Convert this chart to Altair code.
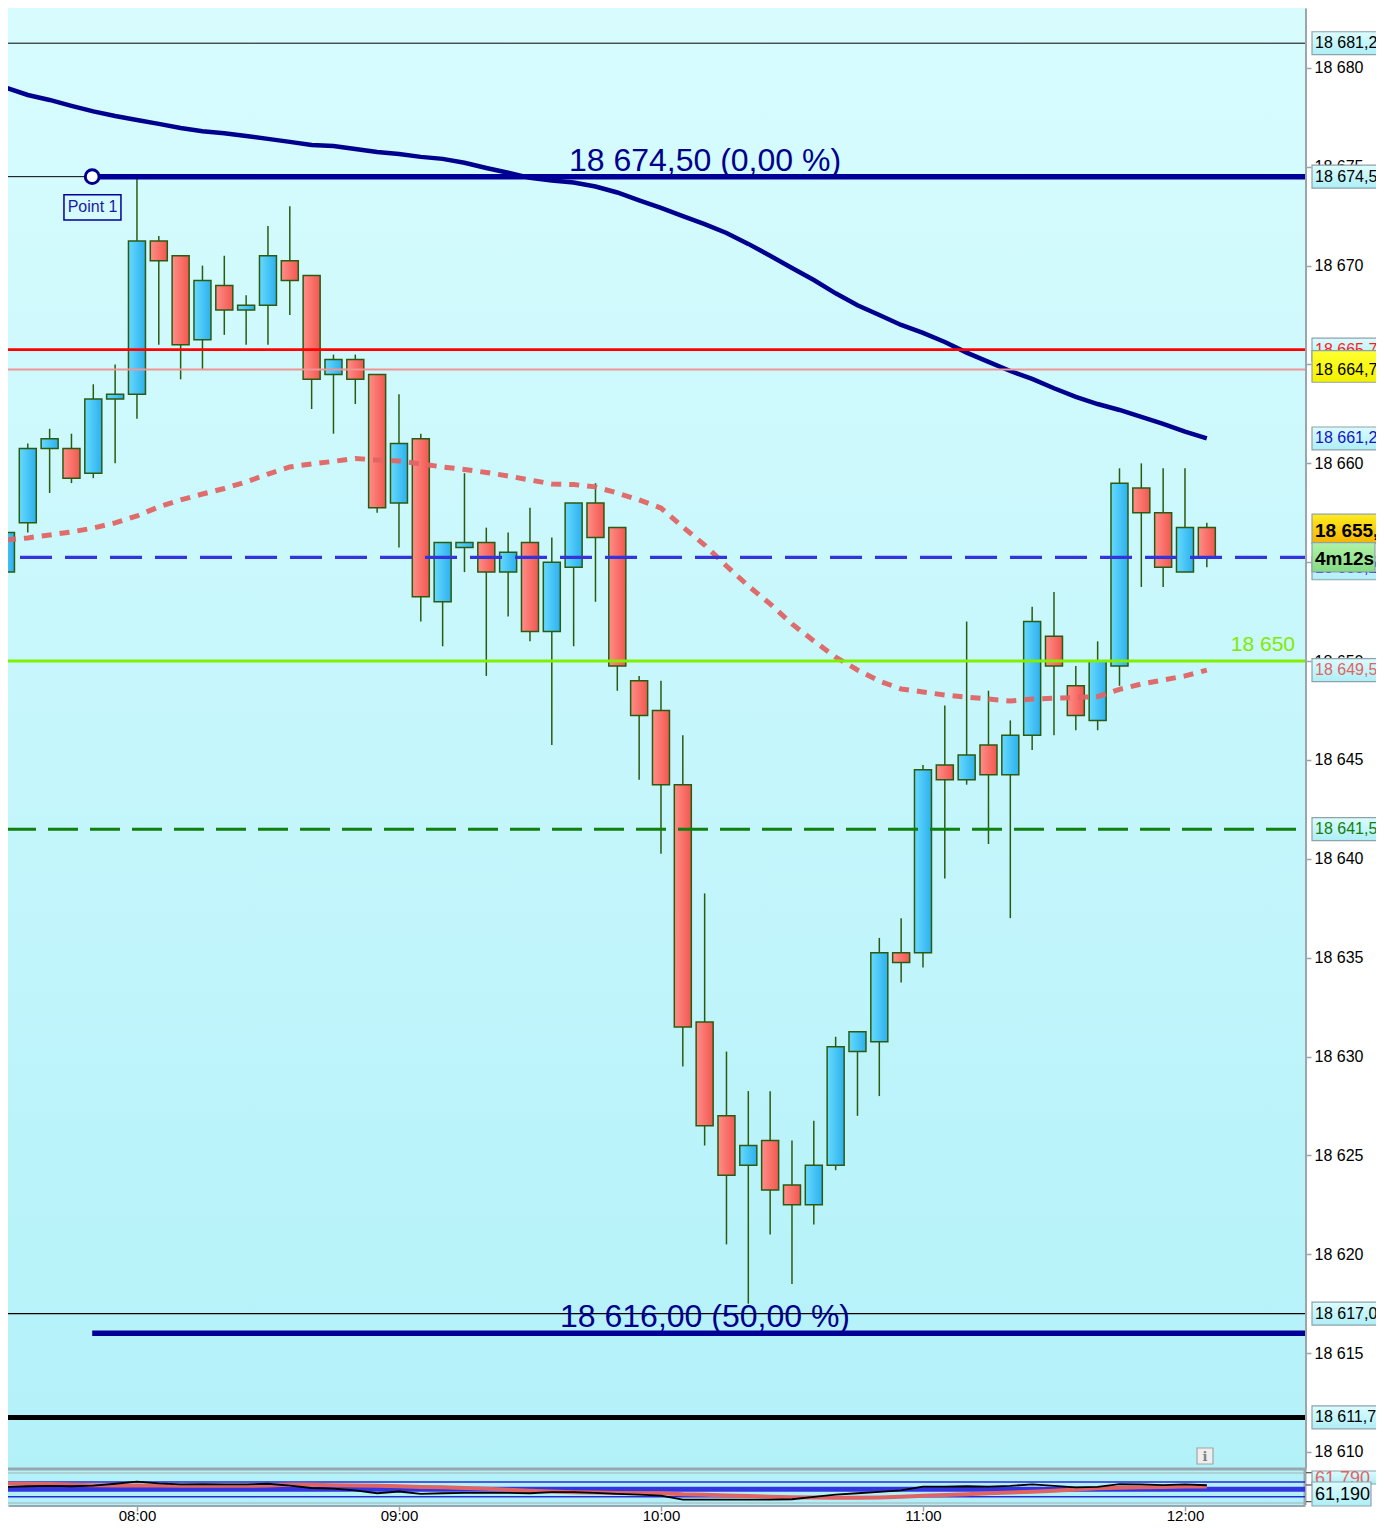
import altair as alt
import pandas as pd

FONT = "Liberation Sans"

# ---------------- data ----------------
candle_times = pd.date_range("2024-01-01 07:30", periods=56, freq="5min")
opens = [18654.5, 18657.0, 18660.75, 18660.75, 18659.5, 18663.25, 18663.5, 18671.25, 18670.5, 18666.25,
         18669.0, 18667.75, 18668.0, 18670.25, 18669.5, 18664.5, 18665.25, 18664.5, 18658.0, 18661.25,
         18653.0, 18655.75, 18656.0, 18654.5, 18656.0, 18651.5, 18654.75, 18658.0, 18656.75, 18649.0,
         18647.5, 18643.75, 18631.75, 18627.0, 18624.5, 18625.75, 18623.5, 18622.5, 18624.5, 18630.25,
         18630.75, 18635.25, 18635.25, 18644.75, 18644.0, 18645.75, 18644.25, 18646.25, 18651.25, 18648.75,
         18647.0, 18649.75, 18658.75, 18657.5, 18654.5, 18656.75]
highs = [18657.5, 18661.0, 18661.75, 18661.5, 18664.0, 18665.0, 18674.5, 18671.5, 18670.5, 18670.0,
         18670.5, 18668.5, 18672.0, 18673.0, 18669.5, 18665.5, 18665.5, 18664.5, 18663.5, 18661.5,
         18656.0, 18659.5, 18656.75, 18656.5, 18657.75, 18656.25, 18658.0, 18659.0, 18656.75, 18649.25,
         18649.0, 18646.25, 18638.25, 18630.25, 18628.25, 18628.25, 18625.75, 18626.75, 18631.0, 18631.25,
         18636.0, 18637.0, 18644.75, 18647.75, 18652.0, 18648.5, 18647.0, 18652.75, 18653.5, 18649.75,
         18651.0, 18659.75, 18660.0, 18659.75, 18659.75, 18657.0]
lows = [18654.25, 18656.5, 18658.5, 18659.0, 18659.25, 18660.0, 18662.25, 18666.0, 18664.25, 18664.75,
        18666.5, 18666.0, 18666.0, 18667.5, 18662.75, 18661.5, 18663.0, 18657.5, 18655.75, 18652.0,
        18650.75, 18654.5, 18649.25, 18652.25, 18651.0, 18645.75, 18650.75, 18653.0, 18648.5, 18644.0,
        18640.25, 18629.5, 18625.5, 18620.5, 18617.5, 18621.0, 18618.5, 18621.5, 18624.25, 18627.0,
        18628.0, 18633.75, 18634.5, 18639.0, 18643.75, 18640.75, 18637.0, 18645.5, 18646.25, 18646.5,
        18646.5, 18648.75, 18653.75, 18653.75, 18654.5, 18654.75]
closes = [18656.5, 18660.75, 18661.25, 18659.25, 18663.25, 18663.5, 18671.25, 18670.25, 18666.0, 18669.25,
          18667.75, 18668.0, 18670.5, 18669.25, 18664.25, 18665.25, 18664.25, 18657.75, 18661.0, 18653.25,
          18656.0, 18656.0, 18654.5, 18655.5, 18651.5, 18655.0, 18658.0, 18656.25, 18649.75, 18647.25,
          18643.75, 18631.5, 18626.5, 18624.0, 18625.5, 18623.25, 18622.5, 18624.5, 18630.5, 18631.25,
          18635.25, 18634.75, 18644.5, 18644.0, 18645.25, 18644.25, 18646.25, 18652.0, 18649.75, 18647.25,
          18650.0, 18659.0, 18657.5, 18654.75, 18656.75, 18655.25]
ma_slow = [18679.0, 18678.63, 18678.38, 18678.08, 18677.8, 18677.57, 18677.37, 18677.17, 18676.96, 18676.8,
           18676.7, 18676.56, 18676.41, 18676.26, 18676.1, 18676.05, 18675.9, 18675.75, 18675.65, 18675.5,
           18675.4, 18675.2, 18674.94, 18674.7, 18674.44, 18674.3, 18674.2, 18674.0, 18673.7, 18673.3,
           18672.92, 18672.5, 18672.1, 18671.65, 18671.1, 18670.5, 18669.88, 18669.27, 18668.6, 18668.0,
           18667.5, 18667.0, 18666.6, 18666.14, 18665.6, 18665.13, 18664.67, 18664.27, 18663.8, 18663.36,
           18663.0, 18662.7, 18662.35, 18662.0, 18661.6, 18661.26]
ma_fast = [18656.13, 18656.23, 18656.38, 18656.53, 18656.73, 18656.99, 18657.34, 18657.8, 18658.15, 18658.45,
           18658.73, 18659.06, 18659.46, 18659.82, 18659.97, 18660.1, 18660.25, 18660.17, 18660.12, 18659.97,
           18659.82, 18659.69, 18659.54, 18659.36, 18659.16, 18658.96, 18658.93, 18658.81, 18658.5, 18658.15,
           18657.74, 18656.78, 18655.87, 18654.81, 18653.8, 18652.89, 18651.88, 18651.02, 18650.2, 18649.55,
           18648.99, 18648.59, 18648.44, 18648.28, 18648.18, 18648.08, 18647.98, 18648.08, 18648.12, 18648.15,
           18648.2, 18648.57, 18648.84, 18649.04, 18649.25, 18649.54]
osc_line = [56.6, 58.5, 59.5, 58.5, 60.4, 65.2, 71.0, 66.2, 63.3, 64.3,
            63.3, 63.3, 65.2, 60.4, 53.7, 51.8, 47.0, 39.4, 44.2, 37.5,
            39.4, 40.3, 40.3, 40.3, 39.4, 42.2, 42.2, 40.3, 37.5, 35.5,
            32.7, 22.2, 22.2, 22.2, 22.2, 22.2, 23.1, 29.8, 35.5, 39.4,
            43.2, 47.0, 57.6, 57.6, 58.5, 57.6, 59.5, 63.3, 59.5, 55.6,
            56.6, 64.3, 63.3, 61.4, 63.3, 61.19]
osc_signal = [66.2, 65.2, 64.3, 62.3, 61.4, 60.4, 60.4, 60.4, 59.5, 59.5,
              59.5, 59.5, 60.4, 62.3, 62.3, 61.4, 60.4, 59.5, 58.5, 56.6,
              55.6, 53.7, 51.8, 48.9, 46.1, 44.2, 42.2, 41.3, 40.3, 39.4,
              39.4, 36.5, 35.5, 33.6, 31.7, 29.8, 28.8, 27.9, 26.9, 26.9,
              27.9, 29.8, 32.7, 34.6, 36.5, 39.4, 41.3, 43.2, 46.1, 49.9,
              52.8, 54.7, 55.6, 56.6, 57.6, 57.6]

price_ticks = list(range(18610, 18685, 5))
hour_ticks = [8, 9, 10, 11, 12]
osc_ticks = [95.4, 61.9, 16.5]

level_top = 18681.25
level_point1 = 18674.50
level_red = 18665.75
level_pink = 18664.75
level_ma_last = 18661.26
level_current = 18655.25
level_round = 18650.00
level_ma2_last = 18649.54
level_green = 18641.50
level_black = 18617.00
level_fib50 = 18616.00
level_black_thick = 18611.75
osc_upper, osc_mid, osc_lower = 70, 50, 30
osc_value_a = 61.79
osc_value_b = 61.19
countdown = "4m12s"
point1_time = "2024-01-01T07:49:45"
label_time = "2024-01-01T10:10:05"
end_time = "2024-01-01T12:27:29"


def fmt(v):
    return f"{v:,.2f}".replace(",", " ").replace(".", ",")


df = pd.DataFrame({
    "t": candle_times.strftime("%Y-%m-%dT%H:%M:%S"),
    "open": opens, "high": highs, "low": lows, "close": closes,
    "ma_slow": ma_slow, "ma_fast": ma_fast,
    "osc": osc_line, "sig": osc_signal,
})

# ---------------- layout / styles ----------------
W = 1297          # plot width
HM = 1460         # price panel height
HT = 1497         # price panel + oscillator panel
NAVY = "#00008e"
OUTLINE = "#2b5b10"
GRID = "#c4e0e6"
BORDER = "#9aa6ae"


def dt(h, m=0, s=0):
    return alt.DateTime(year=2024, month=1, date=1, hours=h, minutes=m, seconds=s)


def vgrad(c0, c1):
    return alt.LinearGradient(gradient="linear", x1=0, x2=0, y1=0, y2=1,
                              stops=[alt.GradientStop(color=c0, offset=0),
                                     alt.GradientStop(color=c1, offset=1)])


def hgrad(c0, c1):
    return alt.LinearGradient(gradient="linear", x1=0, x2=1, y1=0, y2=0,
                              stops=[alt.GradientStop(color=c0, offset=0),
                                     alt.GradientStop(color=c1, offset=1)])


xscale = alt.Scale(domain=[dt(7, 30, 28), dt(12, 27, 29)], padding=0, nice=False)
yscale = alt.Scale(domain=[18609.19, 18683.03], range=[HM, 0], nice=False, zero=False, padding=0)
iscale = alt.Scale(domain=[7.4, 102.7], range=[HT, HM + 2], nice=False, zero=False, padding=0)

x_axis = alt.Axis(values=[dt(h) for h in hour_ticks], format="%H:%M", labelFont=FONT,
                  labelFontSize=15, labelColor="black", labelPadding=-3, labelFlush=False,
                  tickColor=BORDER, tickSize=6, tickWidth=1.5,
                  domainColor=BORDER, domainWidth=3,
                  grid=True, gridColor=GRID, gridDash=[7, 5], gridWidth=1.5, title=None)
y_axis = alt.Axis(orient="right", values=price_ticks,
                  labelExpr="replace(format(datum.value, ','), ',', ' ')",
                  labelFont=FONT, labelFontSize=16, labelColor="black", labelPadding=3,
                  tickColor=BORDER, tickSize=6, tickWidth=1.5,
                  domainColor=BORDER, domainWidth=3,
                  grid=True, gridColor=GRID, gridDash=[7, 5], gridWidth=1.5, title=None)


def X(field="t", axis=alt.Undefined):
    return alt.X(f"{field}:T", scale=xscale, axis=axis, title=None)


def Y(field, axis=None, scale=yscale):
    return alt.Y(f"{field}:Q", scale=scale, axis=axis, title=None)


one = pd.DataFrame({"k": [0]})
base = alt.Chart(df)

bg = alt.Chart(one).mark_rect(fill=vgrad("#d8fcfe", "#b3f1f9")).encode(
    x=alt.value(0), x2=alt.value(W), y=alt.value(0), y2=alt.value(HM))
ibg = alt.Chart(one).mark_rect(fill=vgrad("#b4f2fa", "#b0f0f8")).encode(
    x=alt.value(0), x2=alt.value(W), y=alt.value(HM), y2=alt.value(HT))

wicks = base.mark_rule(color=OUTLINE, strokeWidth=1.5, clip=True).encode(
    x=X(axis=x_axis), y=Y("low", axis=y_axis), y2="high:Q")
down = base.transform_filter("datum.close < datum.open").mark_bar(
    size=17, fill=hgrad("#ff8e88", "#f2574f"), stroke=OUTLINE, strokeWidth=1.5, clip=True
).encode(x=X(), y=Y("open"), y2="close:Q")
up = base.transform_filter("datum.close >= datum.open").mark_bar(
    size=17, fill=hgrad("#66dafd", "#2cb0ee"), stroke=OUTLINE, strokeWidth=1.5, clip=True
).encode(x=X(), y=Y("open"), y2="close:Q")

fast_line = base.mark_line(color="#e06464", strokeWidth=5, strokeDash=[10, 8], clip=True,
                           opacity=0.95).encode(x=X(), y=Y("ma_fast"))
slow_line = base.mark_line(color=NAVY, strokeWidth=4.5, clip=True).encode(x=X(), y=Y("ma_slow"))


def hline(price, **mark):
    return alt.Chart(pd.DataFrame({"p": [price]})).mark_rule(**mark).encode(y=Y("p"))


def partial_line(price, **mark):
    d = pd.DataFrame({"p": [price], "t0": [point1_time], "t1": [end_time]})
    return alt.Chart(d).mark_rule(**mark).encode(x=X("t0"), x2="t1:T", y=Y("p"))


levels = [
    hline(level_top, color="black", strokeWidth=1),
    hline(level_point1, color="black", strokeWidth=1),
    partial_line(level_point1, color="#000099", strokeWidth=5.5),
    hline(level_red, color="#ff0000", strokeWidth=2.8),
    hline(level_pink, color="#f09494", strokeWidth=2),
    hline(level_current, color="#3434dc", strokeWidth=3.3, strokeDash=[32, 13], strokeDashOffset=7),
    hline(level_round, color="#80f000", strokeWidth=3),
    hline(level_green, color="#0f800f", strokeWidth=3, strokeDash=[30, 12], strokeDashOffset=33),
    hline(level_black, color="black", strokeWidth=1.2),
    partial_line(level_fib50, color="#000099", strokeWidth=5.5),
    hline(level_black_thick, color="black", strokeWidth=5),
]

fib_df = pd.DataFrame({"t": [label_time, label_time], "p": [level_point1, level_fib50],
                       "label": [f"{fmt(level_point1)} (0,00 %)", f"{fmt(level_fib50)} (50,00 %)"]})
fib_text = alt.Chart(fib_df).mark_text(font=FONT, fontSize=32, color="#00008b", align="center",
                                       baseline="alphabetic", dy=-6).encode(
    x=X(), y=Y("p"), text="label:N")

round_text = alt.Chart(pd.DataFrame({"p": [level_round], "label": [fmt(level_round)[:-3]]})).mark_text(
    font=FONT, fontSize=21, color="#80ea00", align="right", baseline="alphabetic", dy=-10
).encode(x=alt.value(W - 10), y=Y("p"), text="label:N")

p1_df = pd.DataFrame({"t": [point1_time], "p": [level_point1]})
p1_point = alt.Chart(p1_df).mark_point(shape="circle", size=190, fill="white", fillOpacity=1, opacity=1,
                                       stroke=NAVY, strokeWidth=3).encode(x=X(), y=Y("p"))
p1_box_df = pd.DataFrame({"t0": ["2024-01-01T07:43:17"], "t1": ["2024-01-01T07:56:20"],
                          "p0": [18672.31], "p1": [18673.58], "tc": ["2024-01-01T07:49:50"],
                          "pc": [18672.95], "label": ["Point 1"]})
p1_box = alt.Chart(p1_box_df).mark_rect(fill="#d6fbfd", stroke="#000099", strokeWidth=1.5).encode(
    x=X("t0"), x2="t1:T", y=Y("p0"), y2="p1:Q")
p1_text = alt.Chart(p1_box_df).mark_text(font=FONT, fontSize=16, color="#1a1aa8", align="center",
                                         baseline="middle").encode(x=X("tc"), y=Y("pc"), text="label:N")

BX0, BX1 = W + 7, W + 72
CYAN_BOX = vgrad("#dcfcff", "#aeeef6")


def price_box(price, text, tcolor, fill, half=0.58, shift=0, tshift=None, bold=False, size=16, x1=BX1):
    if tshift is None:
        tshift = shift
    d = pd.DataFrame({"p": [price], "label": [text]})
    b = alt.Chart(d).transform_calculate(lo=f"datum.p - {half}", hi=f"datum.p + {half}")
    rect = b.mark_rect(fill=fill, stroke="#8ea2aa", strokeWidth=1.2, yOffset=shift, y2Offset=shift).encode(
        x=alt.value(BX0), x2=alt.value(x1), y=Y("lo"), y2="hi:Q")
    txt = b.mark_text(align="left", baseline="middle", font=FONT, fontSize=size,
                      fontWeight="bold" if bold else "normal", color=tcolor,
                      yOffset=tshift).encode(
        x=alt.value(BX0 + 3), y=Y("p"), text="label:N")
    return [rect, txt]


boxes = []
boxes += price_box(level_top, fmt(level_top), "black", CYAN_BOX)
boxes += price_box(level_point1, fmt(level_point1), "black", CYAN_BOX)
boxes += price_box(level_ma_last, fmt(level_ma_last), "#1414c8", CYAN_BOX)
boxes += price_box(level_red, fmt(level_red), "#ff1e1e", CYAN_BOX)
boxes += price_box(level_pink, fmt(level_pink), "black", vgrad("#ffff30", "#f4f000"), half=0.8, shift=-3, tshift=1)
boxes += price_box(level_current, fmt(level_current), "#2424d8", CYAN_BOX, shift=11)
boxes += price_box(level_current, fmt(level_current), "black", vgrad("#ffec20", "#f4b400"),
                   half=0.74, shift=-28.5, tshift=-26.5, bold=True, size=19)
boxes += price_box(level_current, countdown, "black", vgrad("#b0f2a8", "#84dc84"),
                   half=0.74, shift=0, tshift=2, bold=True, size=19, x1=W + 70)
boxes += price_box(level_ma2_last, fmt(level_ma2_last), "#e06464", CYAN_BOX)
boxes += price_box(level_green, fmt(level_green), "#108010", CYAN_BOX)
boxes += price_box(level_black, fmt(level_black), "black", CYAN_BOX)
boxes += price_box(level_black_thick, fmt(level_black_thick), "black", CYAN_BOX)

icon_box = alt.Chart(one).mark_rect(fill="#eeeeee", stroke="#a4a4a4", strokeWidth=1.2).encode(
    x=alt.value(1189), x2=alt.value(1205), y=alt.value(1440), y2=alt.value(1456))
icon_txt = alt.Chart(one).mark_text(text="i", font="DejaVu Serif", fontSize=13, fontWeight="bold",
                                    color="#808080", align="center", baseline="middle").encode(
    x=alt.value(1197), y=alt.value(1448.5))

# ---------------- oscillator panel (same plot, own y scale) ----------------
panel_border = alt.Chart(one).mark_rule(color=BORDER, strokeWidth=3).encode(
    y=alt.value(HM + 1), x=alt.value(0), x2=alt.value(W + 1.5))
edge_top = alt.Chart(one).mark_rule(color="#a8c4cc", strokeWidth=1.5).encode(
    y=alt.value(HM + 5), x=alt.value(0), x2=alt.value(W))
edge_bot = alt.Chart(one).mark_rule(color="#a8c4cc", strokeWidth=1.5).encode(
    y=alt.value(HT - 2), x=alt.value(0), x2=alt.value(W))
right_border = alt.Chart(one).mark_rule(color=BORDER, strokeWidth=3).encode(
    x=alt.value(W), y=alt.value(HM), y2=alt.value(HT))


def ihline(v, **mark):
    return alt.Chart(pd.DataFrame({"v": [v]})).mark_rule(**mark).encode(
        y=Y("v", scale=iscale), x=alt.value(0), x2=alt.value(W))


osc_sig_line = base.mark_line(color="#e06464", strokeWidth=4, clip=True).encode(
    x=X(), y=Y("sig", scale=iscale))
osc_main_line = base.mark_line(color="black", strokeWidth=1.8, clip=True).encode(
    x=X(), y=Y("osc", scale=iscale))
osc_tick_marks = alt.Chart(pd.DataFrame({"v": osc_ticks})).mark_rule(color="#505050", strokeWidth=1.2).encode(
    y=Y("v", scale=iscale), x=alt.value(W + 1), x2=alt.value(W + 7))


def ind_box(text, tcolor, y0, y1, x1=BX1):
    d = pd.DataFrame({"label": [text]})
    rect = alt.Chart(d).mark_rect(fill=CYAN_BOX, stroke="#8ea2aa", strokeWidth=1.2).encode(
        x=alt.value(BX0), x2=alt.value(x1), y=alt.value(y0), y2=alt.value(y1))
    txt = alt.Chart(d).mark_text(align="left", baseline="middle", font=FONT, fontSize=18, color=tcolor).encode(
        x=alt.value(BX0 + 3), y=alt.value((y0 + y1) / 2 + 1), text="label:N")
    return [rect, txt]


ind_boxes = ind_box(f"{osc_value_a:.3f}".replace(".", ","), "#e06464", HM + 3, HM + 16) + \
    ind_box(f"{osc_value_b:.3f}".replace(".", ","), "black", HM + 14, HT + 1, x1=W + 66)

chart = alt.layer(
    bg, ibg, wicks, down, up, fast_line, slow_line, *levels, fib_text, round_text,
    p1_point, p1_box, p1_text,
    panel_border, edge_top, edge_bot, right_border,
    ihline(osc_upper, color="#2a2ad4", strokeWidth=1.5),
    ihline(osc_lower, color="#2a2ad4", strokeWidth=1.5),
    ihline(osc_mid, color="#3434e0", strokeWidth=5),
    osc_sig_line, osc_main_line, osc_tick_marks,
    *boxes, *ind_boxes, icon_box, icon_txt,
).resolve_scale(y="independent").properties(
    width=W, height=HT,
    autosize=alt.AutoSizeParams(type="none"),
    padding={"left": 0, "top": 0, "right": 71, "bottom": 17},
    background="white",
).configure_view(stroke=None).configure(font=FONT)

chart.save("out.html", embed_options={"renderer": "svg", "actions": False})
